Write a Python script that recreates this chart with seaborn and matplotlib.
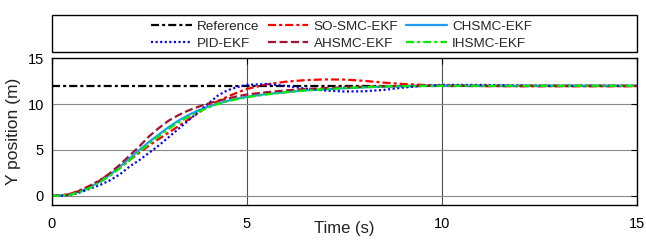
import numpy as np
import pandas as pd
import matplotlib.pyplot as plt
import seaborn as sns

# time samples (s)
t = [0, 0.25, 0.5, 0.75, 1, 1.25, 1.5, 1.75, 2, 2.25, 2.5, 2.75, 3, 3.25, 3.5, 3.75,
     4, 4.25, 4.5, 4.75, 5, 5.5, 6, 6.5, 7, 7.5, 8, 8.5, 9, 9.5, 10, 11, 12, 13, 14, 15]

reference = [12] * len(t)
pid_ekf = [0, 0.02, 0.1, 0.4, 0.8, 1.2, 1.7, 2.35, 3.2, 3.9, 4.7, 5.5, 6.4, 7.3, 8.2, 9.1,
           10.0, 10.9, 11.5, 11.85, 12.1, 12.2, 12.0, 11.7, 11.5, 11.38, 11.4, 11.55, 11.8, 12.0,
           12.1, 12.1, 12.03, 12.0, 12.0, 12.0]
so_smc_ekf = [0, 0.05, 0.25, 0.65, 1.15, 1.75, 2.4, 3.1, 3.9, 4.7, 5.5, 6.2, 6.9, 7.6, 8.3, 9.0,
              9.8, 10.3, 10.8, 11.25, 11.65, 12.15, 12.45, 12.62, 12.7, 12.68, 12.55, 12.35, 12.2, 12.1,
              12.03, 11.97, 11.95, 11.95, 11.95, 11.95]
ahsmc_ekf = [0, 0.03, 0.2, 0.6, 1.1, 1.7, 2.5, 3.4, 4.4, 5.4, 6.5, 7.4, 8.2, 8.8, 9.3, 9.7,
             10.05, 10.35, 10.6, 10.85, 11.05, 11.3, 11.5, 11.65, 11.75, 11.83, 11.9, 11.95, 11.98, 12.0,
             12.0, 12.0, 12.0, 12.0, 12.0, 12.0]
chsmc_ekf = [0, 0.03, 0.15, 0.5, 1.0, 1.6, 2.3, 3.2, 4.1, 5.0, 5.9, 6.7, 7.5, 8.2, 8.8, 9.3,
             9.7, 10.05, 10.35, 10.6, 10.8, 11.1, 11.3, 11.5, 11.62, 11.74, 11.83, 11.9, 11.95, 11.98,
             12.0, 12.0, 12.0, 12.0, 12.0, 12.0]
ihsmc_ekf = [0, 0.02, 0.12, 0.45, 0.9, 1.5, 2.2, 3.0, 3.9, 4.8, 5.7, 6.5, 7.3, 8.0, 8.6, 9.15,
             9.6, 10.0, 10.3, 10.55, 10.75, 11.05, 11.3, 11.5, 11.62, 11.75, 11.85, 11.92, 11.97, 11.99,
             12.0, 12.0, 12.0, 12.0, 12.0, 12.0]

sns.set_theme(style="white")
plt.rcParams["font.family"] = ["Liberation Sans", "DejaVu Sans"]
plt.rcParams["lines.scale_dashes"] = False

fig = plt.figure(figsize=(6.46, 2.42), dpi=100)
ax = fig.add_axes([0.080, 0.153, 0.9056, 0.606])

dashdot = (0, (5.8, 2.2, 2.2, 2.2))
series = [
    ("Reference", reference, "black", dashdot),
    ("SO-SMC-EKF", so_smc_ekf, "#ff0000", dashdot),
    ("CHSMC-EKF", chsmc_ekf, "#1e9bff", "-"),
    ("PID-EKF", pid_ekf, "#0000ff", (0, (1.5, 1.8))),
    ("AHSMC-EKF", ahsmc_ekf, "#a2142f", (0, (5.8, 2.5))),
    ("IHSMC-EKF", ihsmc_ekf, "#00ee00", dashdot),
]
for name, vals, col, ls in series:
    df = pd.DataFrame({"t": t, "y": vals})
    sns.lineplot(data=df, x="t", y="y", ax=ax, color=col, linestyle=ls, linewidth=1.6, label=name)

ax.set_xlim(0, 15)
ax.set_ylim(-1, 15)
ax.set_xticks([0, 5, 10, 15])
ax.set_yticks([0, 5, 10, 15])
ax.xaxis.grid(True, color="#505050", linewidth=0.8)
ax.yaxis.grid(True, color="#8a8a8a", linewidth=0.8)
ax.tick_params(axis="both", direction="in", length=4, width=0.8, top=True, right=True,
               labelsize=10.5, colors="black")
ax.tick_params(axis="x", pad=9)
ax.tick_params(axis="y", pad=5.5)
for sp in ax.spines.values():
    sp.set_color("black")
    sp.set_linewidth(1)

ax.set_xlabel("Time (s)", fontsize=12, color="#222222", va="center")
ax.xaxis.set_label_coords(0.5, -0.16)
ax.set_ylabel("Y position (m)", fontsize=12.5, color="#222222")
ax.yaxis.set_label_coords(-0.053, 0.5)

h, l = ax.get_legend_handles_labels()
ax.get_legend().remove()
order = ["Reference", "PID-EKF", "SO-SMC-EKF", "AHSMC-EKF", "CHSMC-EKF", "IHSMC-EKF"]
hd = dict(zip(l, h))
fig.legend([hd[k] for k in order], order, loc="center", bbox_to_anchor=(0.529, 0.854),
           ncol=3, frameon=False, fontsize=9.7, handlelength=3.0, handletextpad=0.4,
           columnspacing=0.6, labelspacing=0.35)
fig.add_artist(plt.Rectangle((0.080, 0.784), 0.9056, 0.154, transform=fig.transFigure,
                             fill=False, edgecolor="black", linewidth=1))

fig.savefig("out.png", dpi=100)
